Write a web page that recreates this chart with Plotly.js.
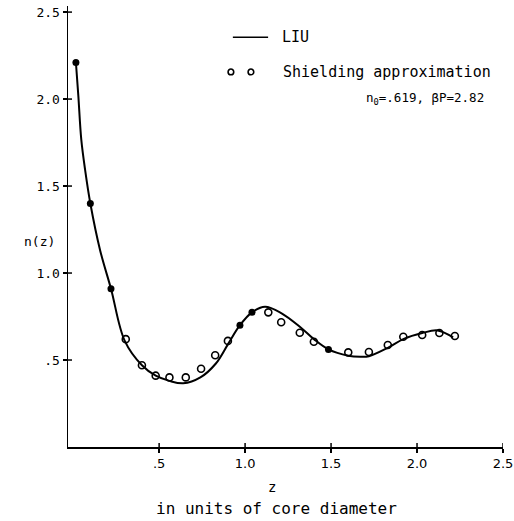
<!DOCTYPE html>
<html>
<head>
<meta charset="utf-8">
<script src="https://cdn.plot.ly/plotly-3.0.1.min.js"></script>
<style>html,body{margin:0;padding:0;background:#fff;}#chart{width:514px;height:521px;}</style>
</head>
<body>
<div id="chart"></div>
<script>
// LIU curve
const liuZ = [0.016, 0.03, 0.047, 0.07, 0.10, 0.157, 0.22, 0.30, 0.40, 0.48, 0.56, 0.64, 0.74, 0.83, 0.90, 0.97, 1.04, 1.116, 1.21, 1.32, 1.40, 1.485, 1.60, 1.67, 1.72, 1.83, 1.92, 2.03, 2.12, 2.21];
const liuN = [2.21, 2.02, 1.77, 1.59, 1.40, 1.13, 0.91, 0.61, 0.47, 0.41, 0.38, 0.366, 0.40, 0.48, 0.59, 0.70, 0.774, 0.806, 0.77, 0.69, 0.62, 0.561, 0.525, 0.519, 0.522, 0.57, 0.62, 0.655, 0.67, 0.63];
// Shielding approximation (open circles)
const shieldZ = [0.306, 0.40, 0.48, 0.56, 0.655, 0.744, 0.826, 0.90, 1.135, 1.21, 1.318, 1.40, 1.60, 1.72, 1.83, 1.92, 2.03, 2.13, 2.22];
const shieldN = [0.62, 0.47, 0.41, 0.40, 0.40, 0.45, 0.527, 0.61, 0.774, 0.717, 0.657, 0.605, 0.544, 0.546, 0.586, 0.634, 0.644, 0.655, 0.638];
// Shielding approximation points lying on the LIU curve (appear filled)
const onCurveZ = [0.016, 0.10, 0.22, 0.97, 1.04, 1.485];
const onCurveN = [2.21, 1.40, 0.91, 0.70, 0.774, 0.561];
// Tick labels
const tickVals = [0.5, 1.0, 1.5, 2.0, 2.5];
const tickText = ['.5', '1.0', '1.5', '2.0', '2.5'];

const FONT = 'DejaVu Sans, sans-serif';
const MONO = 'DejaVu Sans Mono, monospace';

const traces = [
  {x: liuZ, y: liuN, mode: 'lines', line: {color: '#000', width: 2, shape: 'spline', smoothing: 1}, showlegend: false, hoverinfo: 'skip'},
  {x: shieldZ, y: shieldN, mode: 'markers', marker: {symbol: 'circle-open', size: 7, color: '#000', line: {width: 1.6, color: '#000'}}, showlegend: false},
  {x: onCurveZ, y: onCurveN, mode: 'markers', marker: {symbol: 'circle', size: 7, color: '#000'}, showlegend: false}
];

const axisCommon = {showgrid: false, zeroline: false, showline: true, linecolor: '#000', linewidth: 1.5, tickcolor: '#000', tickwidth: 1.5, ticklen: 4, ticks: 'outside'};

// inner half of the cross-shaped tick marks, one per tick value
const tickShapes = [];
tickVals.forEach(v => {
  tickShapes.push({type: 'line', xref: 'x', yref: 'paper', ysizemode: 'pixel', yanchor: 0, x0: v, x1: v, y0: 0, y1: 4, line: {color: '#000', width: 1.5}});
  tickShapes.push({type: 'line', yref: 'y', xref: 'paper', xsizemode: 'pixel', xanchor: 0, y0: v, y1: v, x0: 0, x1: 4, line: {color: '#000', width: 1.5}});
});

const layout = {
  width: 514, height: 521,
  margin: {l: 68, r: 11, t: 6, b: 74},
  paper_bgcolor: '#fff', plot_bgcolor: '#fff',
  font: {family: FONT, color: '#000', size: 13},
  xaxis: Object.assign({}, axisCommon, {range: [-0.03, 2.5], tickvals: tickVals, ticktext: tickText, tickfont: {size: 13, family: FONT}, automargin: false}),
  yaxis: Object.assign({}, axisCommon, {range: [0, 2.535], tickvals: tickVals, ticktext: tickText, tickfont: {size: 13, family: MONO}}),
  shapes: tickShapes.concat([
    {type: 'line', xref: 'paper', yref: 'paper', x0: 0.379, x1: 0.46, y0: 0.929, y1: 0.929, line: {color: '#000', width: 1.5}},
    {type: 'circle', xref: 'paper', yref: 'paper', x0: 0.368, x1: 0.381, y0: 0.844, y1: 0.857, line: {color: '#000', width: 1.6}},
    {type: 'circle', xref: 'paper', yref: 'paper', x0: 0.414, x1: 0.427, y0: 0.844, y1: 0.857, line: {color: '#000', width: 1.6}}
  ]),
  annotations: [
    {xref: 'paper', yref: 'paper', x: 0.488, y: 0.929, xanchor: 'left', yanchor: 'middle', text: 'LIU', showarrow: false, font: {size: 15, family: MONO}},
    {xref: 'paper', yref: 'paper', x: 0.49, y: 0.851, xanchor: 'left', yanchor: 'middle', text: 'Shielding approximation', showarrow: false, font: {size: 15, family: MONO}},
    {xref: 'paper', yref: 'paper', x: 0.68, y: 0.79, xanchor: 'left', yanchor: 'middle', text: 'n<sub>0</sub>=.619, βP=2.82', showarrow: false, font: {size: 12.5, family: MONO}},
    {xref: 'paper', yref: 'paper', x: -0.106, y: 0.467, xanchor: 'left', yanchor: 'middle', text: 'n(z)', showarrow: false, font: {size: 13, family: MONO}},
    {xref: 'paper', yref: 'paper', x: 0.47, y: -0.09, xanchor: 'center', yanchor: 'middle', text: 'z', showarrow: false, font: {size: 14, family: MONO}},
    {xref: 'paper', yref: 'paper', x: 0.48, y: -0.14, xanchor: 'center', yanchor: 'middle', text: 'in units of core diameter', showarrow: false, font: {size: 16, family: MONO}}
  ]
};

Plotly.newPlot('chart', traces, layout, {staticPlot: true, displayModeBar: false});
</script>
</body>
</html>
